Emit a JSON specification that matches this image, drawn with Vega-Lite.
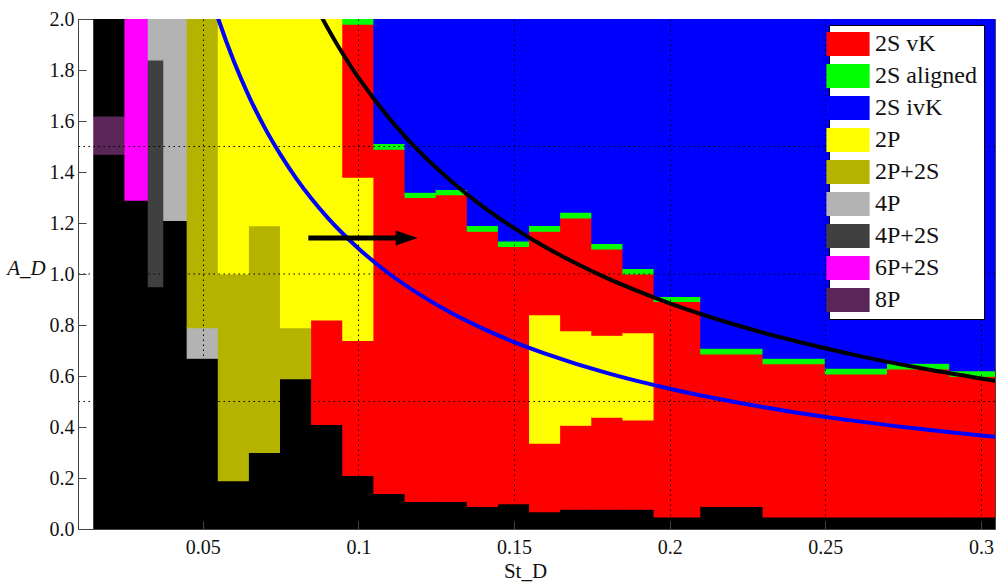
{
  "$schema": "https://vega.github.io/schema/vega-lite/v6.json",
  "width": 917,
  "height": 510,
  "autosize": {"type": "none"},
  "padding": {"left": 78, "top": 19, "right": 2, "bottom": 54},
  "background": "white",
  "view": {"stroke": "#444", "strokeWidth": 1},
  "config": {
    "font": "Liberation Serif",
    "axis": {"labelFont": "Liberation Serif", "labelFontSize": 20, "labelColor": "#111", "titleFont": "Liberation Serif", "titleFontSize": 21, "titleFontWeight": "normal", "titleColor": "#111", "domainColor": "#444", "tickColor": "#444"}
  },
  "datasets": {
    "cells": [
      {"p": "none", "x1": 0.015, "x2": 0.025, "y1": 0, "y2": 1.47},
      {"p": "8P", "x1": 0.015, "x2": 0.025, "y1": 1.47, "y2": 1.62},
      {"p": "none", "x1": 0.015, "x2": 0.025, "y1": 1.62, "y2": 2.0},
      {"p": "none", "x1": 0.025, "x2": 0.0325, "y1": 0, "y2": 1.29},
      {"p": "6P+2S", "x1": 0.025, "x2": 0.0325, "y1": 1.29, "y2": 2.0},
      {"p": "none", "x1": 0.0325, "x2": 0.0375, "y1": 0, "y2": 0.95},
      {"p": "4P+2S", "x1": 0.0325, "x2": 0.0375, "y1": 0.95, "y2": 1.84},
      {"p": "4P", "x1": 0.0325, "x2": 0.0375, "y1": 1.84, "y2": 2.0},
      {"p": "none", "x1": 0.0375, "x2": 0.045, "y1": 0, "y2": 1.21},
      {"p": "4P", "x1": 0.0375, "x2": 0.045, "y1": 1.21, "y2": 2.0},
      {"p": "none", "x1": 0.045, "x2": 0.055, "y1": 0, "y2": 0.67},
      {"p": "4P", "x1": 0.045, "x2": 0.055, "y1": 0.67, "y2": 0.79},
      {"p": "2P+2S", "x1": 0.045, "x2": 0.055, "y1": 0.79, "y2": 2.0},
      {"p": "none", "x1": 0.055, "x2": 0.065, "y1": 0, "y2": 0.19},
      {"p": "2P+2S", "x1": 0.055, "x2": 0.065, "y1": 0.19, "y2": 1.0},
      {"p": "2P", "x1": 0.055, "x2": 0.065, "y1": 1.0, "y2": 2.0},
      {"p": "none", "x1": 0.065, "x2": 0.075, "y1": 0, "y2": 0.3},
      {"p": "2P+2S", "x1": 0.065, "x2": 0.075, "y1": 0.3, "y2": 1.19},
      {"p": "2P", "x1": 0.065, "x2": 0.075, "y1": 1.19, "y2": 2.0},
      {"p": "none", "x1": 0.075, "x2": 0.085, "y1": 0, "y2": 0.59},
      {"p": "2P+2S", "x1": 0.075, "x2": 0.085, "y1": 0.59, "y2": 0.79},
      {"p": "2P", "x1": 0.075, "x2": 0.085, "y1": 0.79, "y2": 2.0},
      {"p": "none", "x1": 0.085, "x2": 0.095, "y1": 0, "y2": 0.41},
      {"p": "2S vK", "x1": 0.085, "x2": 0.095, "y1": 0.41, "y2": 0.82},
      {"p": "2P", "x1": 0.085, "x2": 0.095, "y1": 0.82, "y2": 2.0},
      {"p": "none", "x1": 0.095, "x2": 0.105, "y1": 0, "y2": 0.21},
      {"p": "2S vK", "x1": 0.095, "x2": 0.105, "y1": 0.21, "y2": 0.74},
      {"p": "2P", "x1": 0.095, "x2": 0.105, "y1": 0.74, "y2": 1.38},
      {"p": "2S vK", "x1": 0.095, "x2": 0.105, "y1": 1.38, "y2": 1.98},
      {"p": "2S aligned", "x1": 0.095, "x2": 0.105, "y1": 1.98, "y2": 2.0},
      {"p": "none", "x1": 0.105, "x2": 0.115, "y1": 0, "y2": 0.14},
      {"p": "2S vK", "x1": 0.105, "x2": 0.115, "y1": 0.14, "y2": 1.49},
      {"p": "2S aligned", "x1": 0.105, "x2": 0.115, "y1": 1.49, "y2": 1.512},
      {"p": "2S ivK", "x1": 0.105, "x2": 0.115, "y1": 1.512, "y2": 2.0},
      {"p": "none", "x1": 0.115, "x2": 0.125, "y1": 0, "y2": 0.108},
      {"p": "2S vK", "x1": 0.115, "x2": 0.125, "y1": 0.108, "y2": 1.3},
      {"p": "2S aligned", "x1": 0.115, "x2": 0.125, "y1": 1.3, "y2": 1.321},
      {"p": "2S ivK", "x1": 0.115, "x2": 0.125, "y1": 1.321, "y2": 2.0},
      {"p": "none", "x1": 0.125, "x2": 0.135, "y1": 0, "y2": 0.108},
      {"p": "2S vK", "x1": 0.125, "x2": 0.135, "y1": 0.108, "y2": 1.311},
      {"p": "2S aligned", "x1": 0.125, "x2": 0.135, "y1": 1.311, "y2": 1.332},
      {"p": "2S ivK", "x1": 0.125, "x2": 0.135, "y1": 1.332, "y2": 2.0},
      {"p": "none", "x1": 0.135, "x2": 0.145, "y1": 0, "y2": 0.089},
      {"p": "2S vK", "x1": 0.135, "x2": 0.145, "y1": 0.089, "y2": 1.168},
      {"p": "2S aligned", "x1": 0.135, "x2": 0.145, "y1": 1.168, "y2": 1.191},
      {"p": "2S ivK", "x1": 0.135, "x2": 0.145, "y1": 1.191, "y2": 2.0},
      {"p": "none", "x1": 0.145, "x2": 0.155, "y1": 0, "y2": 0.099},
      {"p": "2S vK", "x1": 0.145, "x2": 0.155, "y1": 0.099, "y2": 1.108},
      {"p": "2S aligned", "x1": 0.145, "x2": 0.155, "y1": 1.108, "y2": 1.13},
      {"p": "2S ivK", "x1": 0.145, "x2": 0.155, "y1": 1.13, "y2": 2.0},
      {"p": "none", "x1": 0.155, "x2": 0.165, "y1": 0, "y2": 0.068},
      {"p": "2S vK", "x1": 0.155, "x2": 0.165, "y1": 0.068, "y2": 0.337},
      {"p": "2P", "x1": 0.155, "x2": 0.165, "y1": 0.337, "y2": 0.841},
      {"p": "2S vK", "x1": 0.155, "x2": 0.165, "y1": 0.841, "y2": 1.168},
      {"p": "2S aligned", "x1": 0.155, "x2": 0.165, "y1": 1.168, "y2": 1.191},
      {"p": "2S ivK", "x1": 0.155, "x2": 0.165, "y1": 1.191, "y2": 2.0},
      {"p": "none", "x1": 0.165, "x2": 0.175, "y1": 0, "y2": 0.078},
      {"p": "2S vK", "x1": 0.165, "x2": 0.175, "y1": 0.078, "y2": 0.407},
      {"p": "2P", "x1": 0.165, "x2": 0.175, "y1": 0.407, "y2": 0.778},
      {"p": "2S vK", "x1": 0.165, "x2": 0.175, "y1": 0.778, "y2": 1.22},
      {"p": "2S aligned", "x1": 0.165, "x2": 0.175, "y1": 1.22, "y2": 1.243},
      {"p": "2S ivK", "x1": 0.165, "x2": 0.175, "y1": 1.243, "y2": 2.0},
      {"p": "none", "x1": 0.175, "x2": 0.185, "y1": 0, "y2": 0.078},
      {"p": "2S vK", "x1": 0.175, "x2": 0.185, "y1": 0.078, "y2": 0.439},
      {"p": "2P", "x1": 0.175, "x2": 0.185, "y1": 0.439, "y2": 0.76},
      {"p": "2S vK", "x1": 0.175, "x2": 0.185, "y1": 0.76, "y2": 1.098},
      {"p": "2S aligned", "x1": 0.175, "x2": 0.185, "y1": 1.098, "y2": 1.12},
      {"p": "2S ivK", "x1": 0.175, "x2": 0.185, "y1": 1.12, "y2": 2.0},
      {"p": "none", "x1": 0.185, "x2": 0.195, "y1": 0, "y2": 0.078},
      {"p": "2S vK", "x1": 0.185, "x2": 0.195, "y1": 0.078, "y2": 0.428},
      {"p": "2P", "x1": 0.185, "x2": 0.195, "y1": 0.428, "y2": 0.77},
      {"p": "2S vK", "x1": 0.185, "x2": 0.195, "y1": 0.77, "y2": 1.0},
      {"p": "2S aligned", "x1": 0.185, "x2": 0.195, "y1": 1.0, "y2": 1.022},
      {"p": "2S ivK", "x1": 0.185, "x2": 0.195, "y1": 1.022, "y2": 2.0},
      {"p": "none", "x1": 0.195, "x2": 0.21, "y1": 0, "y2": 0.047},
      {"p": "2S vK", "x1": 0.195, "x2": 0.21, "y1": 0.047, "y2": 0.893},
      {"p": "2S aligned", "x1": 0.195, "x2": 0.21, "y1": 0.893, "y2": 0.912},
      {"p": "2S ivK", "x1": 0.195, "x2": 0.21, "y1": 0.912, "y2": 2.0},
      {"p": "none", "x1": 0.21, "x2": 0.23, "y1": 0, "y2": 0.089},
      {"p": "2S vK", "x1": 0.21, "x2": 0.23, "y1": 0.089, "y2": 0.687},
      {"p": "2S aligned", "x1": 0.21, "x2": 0.23, "y1": 0.687, "y2": 0.709},
      {"p": "2S ivK", "x1": 0.21, "x2": 0.23, "y1": 0.709, "y2": 2.0},
      {"p": "none", "x1": 0.23, "x2": 0.25, "y1": 0, "y2": 0.047},
      {"p": "2S vK", "x1": 0.23, "x2": 0.25, "y1": 0.047, "y2": 0.648},
      {"p": "2S aligned", "x1": 0.23, "x2": 0.25, "y1": 0.648, "y2": 0.67},
      {"p": "2S ivK", "x1": 0.23, "x2": 0.25, "y1": 0.67, "y2": 2.0},
      {"p": "none", "x1": 0.25, "x2": 0.27, "y1": 0, "y2": 0.047},
      {"p": "2S vK", "x1": 0.25, "x2": 0.27, "y1": 0.047, "y2": 0.608},
      {"p": "2S aligned", "x1": 0.25, "x2": 0.27, "y1": 0.608, "y2": 0.631},
      {"p": "2S ivK", "x1": 0.25, "x2": 0.27, "y1": 0.631, "y2": 2.0},
      {"p": "none", "x1": 0.27, "x2": 0.29, "y1": 0, "y2": 0.047},
      {"p": "2S vK", "x1": 0.27, "x2": 0.29, "y1": 0.047, "y2": 0.628},
      {"p": "2S aligned", "x1": 0.27, "x2": 0.29, "y1": 0.628, "y2": 0.65},
      {"p": "2S ivK", "x1": 0.27, "x2": 0.29, "y1": 0.65, "y2": 2.0},
      {"p": "none", "x1": 0.29, "x2": 0.31, "y1": 0, "y2": 0.047},
      {"p": "2S vK", "x1": 0.29, "x2": 0.31, "y1": 0.047, "y2": 0.599},
      {"p": "2S aligned", "x1": 0.29, "x2": 0.31, "y1": 0.599, "y2": 0.621},
      {"p": "2S ivK", "x1": 0.29, "x2": 0.31, "y1": 0.621, "y2": 2.0}
    ],
    "curves": [
      {"c": "upper", "st": 0.087, "a": 2.034},
      {"c": "upper", "st": 0.09, "a": 1.967},
      {"c": "upper", "st": 0.095, "a": 1.863},
      {"c": "upper", "st": 0.1, "a": 1.77},
      {"c": "upper", "st": 0.11, "a": 1.609},
      {"c": "upper", "st": 0.12, "a": 1.475},
      {"c": "upper", "st": 0.13, "a": 1.362},
      {"c": "upper", "st": 0.14, "a": 1.264},
      {"c": "upper", "st": 0.15, "a": 1.18},
      {"c": "upper", "st": 0.16, "a": 1.106},
      {"c": "upper", "st": 0.17, "a": 1.041},
      {"c": "upper", "st": 0.18, "a": 0.983},
      {"c": "upper", "st": 0.19, "a": 0.932},
      {"c": "upper", "st": 0.2, "a": 0.885},
      {"c": "upper", "st": 0.22, "a": 0.805},
      {"c": "upper", "st": 0.24, "a": 0.738},
      {"c": "upper", "st": 0.26, "a": 0.681},
      {"c": "upper", "st": 0.28, "a": 0.632},
      {"c": "upper", "st": 0.3, "a": 0.59},
      {"c": "upper", "st": 0.305, "a": 0.58},
      {"c": "lower", "st": 0.054, "a": 2.037},
      {"c": "lower", "st": 0.055, "a": 2.0},
      {"c": "lower", "st": 0.06, "a": 1.833},
      {"c": "lower", "st": 0.065, "a": 1.692},
      {"c": "lower", "st": 0.07, "a": 1.571},
      {"c": "lower", "st": 0.075, "a": 1.467},
      {"c": "lower", "st": 0.08, "a": 1.375},
      {"c": "lower", "st": 0.09, "a": 1.222},
      {"c": "lower", "st": 0.1, "a": 1.1},
      {"c": "lower", "st": 0.11, "a": 1.0},
      {"c": "lower", "st": 0.12, "a": 0.917},
      {"c": "lower", "st": 0.13, "a": 0.846},
      {"c": "lower", "st": 0.14, "a": 0.786},
      {"c": "lower", "st": 0.15, "a": 0.733},
      {"c": "lower", "st": 0.16, "a": 0.688},
      {"c": "lower", "st": 0.18, "a": 0.611},
      {"c": "lower", "st": 0.2, "a": 0.55},
      {"c": "lower", "st": 0.22, "a": 0.5},
      {"c": "lower", "st": 0.24, "a": 0.458},
      {"c": "lower", "st": 0.26, "a": 0.423},
      {"c": "lower", "st": 0.28, "a": 0.393},
      {"c": "lower", "st": 0.3, "a": 0.367},
      {"c": "lower", "st": 0.305, "a": 0.361}
    ],
    "ygrid": [{"g": 0.5}, {"g": 1.0}, {"g": 1.5}],
    "arrow": [{"s1": 0.0839, "s2": 0.1125, "a": 1.141}],
    "head": [{"s": 0.1155, "a": 1.141}]
  },
  "layer": [
    {
      "data": {"name": "cells"},
      "mark": {"type": "rect", "clip": true, "strokeWidth": 1.2},
      "encoding": {
        "x": {"field": "x1", "type": "quantitative",
          "scale": {"domain": [0.0099, 0.3045], "nice": false, "zero": false},
          "axis": {"title": "St_D", "values": [0.05, 0.1, 0.15, 0.2, 0.25, 0.3], "format": "~g", "grid": true, "gridColor": "black", "gridDash": [1.5, 3.5], "gridOpacity": 1, "gridWidth": 1, "zindex": 1, "tickSize": -8, "labelPadding": 16, "titleX": 447, "titleY": 48, "titleBaseline": "alphabetic", "titleAlign": "center"}},
        "x2": {"field": "x2"},
        "y": {"field": "y1", "type": "quantitative",
          "scale": {"domain": [0, 2.0], "nice": false, "zero": false},
          "axis": {"title": "A_D", "titleFontStyle": "italic", "values": [0, 0.2, 0.4, 0.6, 0.8, 1.0, 1.2, 1.4, 1.6, 1.8, 2.0], "format": ".1f", "grid": false, "zindex": 1, "tickSize": -8, "labelPadding": 12, "titleAngle": 0, "titleX": -52, "titleY": 249, "titleAlign": "center", "titleBaseline": "middle"}},
        "y2": {"field": "y2"},
        "color": {"field": "p", "type": "nominal",
          "scale": {"domain": ["2S vK", "2S aligned", "2S ivK", "2P", "2P+2S", "4P", "4P+2S", "6P+2S", "8P", "none"],
                    "range": ["#ff0000", "#00ff00", "#0000ff", "#ffff00", "#b3b300", "#b3b3b3", "#404040", "#ff00ff", "#5a2658", "#000000"]},
          "legend": {"title": null, "values": ["2S vK", "2S aligned", "2S ivK", "2P", "2P+2S", "4P", "4P+2S", "6P+2S", "8P"],
            "orient": "none", "legendX": 751, "legendY": 6, "fillColor": "white", "strokeColor": "black", "padding": 7, "zindex": 2,
            "symbolType": "M-1.8,-1L1.8,-1L1.8,1L-1.8,1Z", "symbolSize": 576, "symbolStrokeWidth": 0, "symbolOpacity": 1,
            "labelFont": "Liberation Serif", "labelFontSize": 24, "labelColor": "#111", "labelOffset": 15, "rowPadding": 8, "labelLimit": 200}},
        "stroke": {"field": "p", "type": "nominal",
          "scale": {"domain": ["2S vK", "2S aligned", "2S ivK", "2P", "2P+2S", "4P", "4P+2S", "6P+2S", "8P", "none"],
                    "range": ["#ff0000", "#00ff00", "#0000ff", "#ffff00", "#b3b300", "#b3b3b3", "#404040", "#ff00ff", "#5a2658", "#000000"]},
          "legend": null}
      }
    },
    {
      "data": {"name": "ygrid"},
      "mark": {"type": "rule", "color": "black", "strokeWidth": 1, "strokeDash": [1.5, 3.5]},
      "encoding": {"y": {"field": "g", "type": "quantitative"}}
    },
    {
      "data": {"name": "curves"},
      "mark": {"type": "line", "clip": true, "strokeWidth": 4, "interpolate": "monotone"},
      "encoding": {
        "x": {"field": "st", "type": "quantitative"},
        "y": {"field": "a", "type": "quantitative"},
        "detail": {"field": "c"},
        "stroke": {"field": "c", "type": "nominal", "scale": {"domain": ["upper", "lower"], "range": ["#000000", "#0000ff"]}, "legend": null}
      }
    },
    {
      "data": {"name": "arrow"},
      "mark": {"type": "rule", "color": "black", "strokeWidth": 5},
      "encoding": {
        "x": {"field": "s1", "type": "quantitative"},
        "x2": {"field": "s2"},
        "y": {"field": "a", "type": "quantitative"}
      }
    },
    {
      "data": {"name": "head"},
      "mark": {"type": "point", "shape": "M-1,-0.68L1,0L-1,0.68Z", "size": 484, "filled": true, "color": "black", "opacity": 1},
      "encoding": {
        "x": {"field": "s", "type": "quantitative"},
        "y": {"field": "a", "type": "quantitative"}
      }
    }
  ],
  "resolve": {"scale": {"stroke": "independent"}}
}
